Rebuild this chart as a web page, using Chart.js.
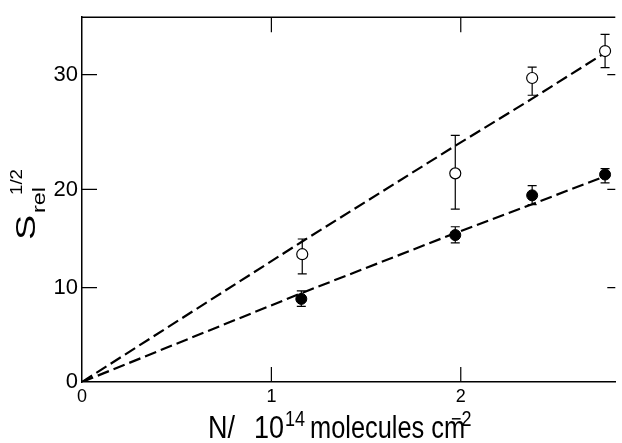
<!DOCTYPE html>
<html>
<head>
<meta charset="utf-8">
<script src="https://cdn.jsdelivr.net/npm/chart.js@4.4.1/dist/chart.umd.min.js"></script>
<style>
  html, body { margin: 0; padding: 0; background: #fff; }
</style>
</head>
<body>
<canvas id="chart" width="622" height="443"></canvas>
<script>
// values
const xTicks = [0, 1, 2];
const yTicks = [0, 10, 20, 30];

const openX = [1.163, 1.971, 2.377, 2.762];
const openY = [13.4, 21.4, 29.7, 32.05];
const openErrUp = [1.55, 3.3, 0.95, 1.45];
const openErrDown = [2.0, 3.4, 1.5, 1.45];

const filledX = [1.158, 1.971, 2.377, 2.762];
const filledY = [8.8, 15.35, 19.4, 21.3];
const filledErrUp = [0.85, 0.85, 0.93, 0.52];
const filledErrDown = [0.8, 0.8, 0.94, 0.73];

const openFitX = [0, 1.163, 1.971, 2.377, 2.762];
const openFitY = [0, 14.7, 23.8, 27.9, 31.9];
const filledFitX = [0, 1.158, 1.971, 2.377, 2.762];
const filledFitY = [0, 9.4, 15.55, 18.5, 21.15];

// the printed y axis is not evenly spaced, so map value -> axis fraction piecewise
const yBreakValues = [0, 10, 20, 30, 35];
const yBreakFractions = [0, 0.2589, 0.5278, 0.8428, 1];

function interp(v, xs, ys) {
    for (let i = 1; i < xs.length; i++) {
        if (v <= xs[i] || i === xs.length - 1) {
            return ys[i - 1] + (v - xs[i - 1]) * (ys[i] - ys[i - 1]) / (xs[i] - xs[i - 1]);
        }
    }
}

class PrintedScale extends Chart.LinearScale {
    getPixelForValue(value) {
        return this.getPixelForDecimal(interp(value, yBreakValues, yBreakFractions));
    }
    getValueForPixel(pixel) {
        return interp(this.getDecimalForPixel(pixel), yBreakFractions, yBreakValues);
    }
}
PrintedScale.id = 'printed';
PrintedScale.defaults = Chart.LinearScale.defaults;
Chart.register(PrintedScale);

const FONT = '"Liberation Sans", Arial, sans-serif';
Chart.defaults.font.family = FONT;
Chart.defaults.color = '#000';

function points(xs, ys) {
    return xs.map((x, i) => ({ x: x, y: ys[i] }));
}

// error bars, drawn under the markers
const errorBars = {
    id: 'errorBars',
    beforeDatasetsDraw(chart) {
        const ctx = chart.ctx;
        const xs = chart.scales.x, ys = chart.scales.y;
        ctx.save();
        ctx.strokeStyle = '#000';
        ctx.lineWidth = 1.2;
        chart.data.datasets.forEach(ds => {
            if (!ds.errUp) return;
            ds.data.forEach((p, i) => {
                const px = xs.getPixelForValue(p.x);
                const top = ys.getPixelForValue(p.y + ds.errUp[i]);
                const bot = ys.getPixelForValue(p.y - ds.errDown[i]);
                ctx.beginPath();
                ctx.moveTo(px, top); ctx.lineTo(px, bot);
                ctx.moveTo(px - 4.5, top); ctx.lineTo(px + 4.5, top);
                ctx.moveTo(px - 4.5, bot); ctx.lineTo(px + 4.5, bot);
                ctx.stroke();
            });
        });
        ctx.restore();
    }
};

// top edge, inward ticks, axis titles
const frame = {
    id: 'frame',
    afterDraw(chart) {
        const ctx = chart.ctx;
        const a = chart.chartArea;
        const xs = chart.scales.x, ys = chart.scales.y;
        ctx.save();
        ctx.strokeStyle = '#000';
        ctx.lineWidth = 1.5;
        ctx.beginPath();
        ctx.moveTo(a.left, a.top); ctx.lineTo(a.right, a.top);
        ctx.stroke();
        ctx.lineWidth = 1.2;
        ctx.beginPath();
        xTicks.slice(1).forEach(v => {
            const px = xs.getPixelForValue(v);
            ctx.moveTo(px, a.bottom); ctx.lineTo(px, a.bottom - 15);
            ctx.moveTo(px, a.top); ctx.lineTo(px, a.top + 15);
        });
        yTicks.slice(1).forEach(v => {
            const py = ys.getPixelForValue(v);
            ctx.moveTo(a.left, py); ctx.lineTo(a.left + 15, py);
            ctx.moveTo(a.right, py); ctx.lineTo(a.right - 8, py);
        });
        ctx.stroke();

        ctx.fillStyle = '#000';
        ctx.textBaseline = 'alphabetic';
        ctx.textAlign = 'left';

        // x title: N/ 10^14 molecules cm^-2
        function xText(str, x, y, size, sx) {
            ctx.save();
            ctx.translate(x, y);
            ctx.scale(sx, 1.18);
            ctx.font = size + 'px ' + FONT;
            ctx.fillText(str, 0, 0);
            ctx.restore();
        }
        xText('N/', 208, 438, 27, 1);
        xText('10', 254, 438, 27, 1);
        xText('14', 285, 426, 18, 1);
        xText('molecules cm', 310, 438, 27, 0.94);
        xText('\u22122', 451, 426, 18, 1);

        // y title: S_rel^1/2, rotated
        ctx.save();
        ctx.translate(35, 240);
        ctx.rotate(-Math.PI / 2);
        function yText(str, x, y, size, sx) {
            ctx.save();
            ctx.translate(x, y);
            ctx.scale(sx, 1);
            ctx.font = size + 'px ' + FONT;
            ctx.fillText(str, 0, 0);
            ctx.restore();
        }
        yText('S', 0, 0, 28, 1.35);
        yText('rel', 27, 10, 18, 1.3);
        yText('1/2', 45, -13, 17, 1.1);
        ctx.restore();

        ctx.restore();
    }
};

const ctx = document.getElementById('chart').getContext('2d');
new Chart(ctx, {
    type: 'scatter',
    data: {
        datasets: [
            {
                label: 'open',
                data: points(openX, openY),
                errUp: openErrUp,
                errDown: openErrDown,
                pointStyle: 'circle',
                pointRadius: 5.5,
                pointBackgroundColor: '#fff',
                pointBorderColor: '#000',
                pointBorderWidth: 1.2,
                showLine: false,
                order: 0
            },
            {
                label: 'filled',
                data: points(filledX, filledY),
                errUp: filledErrUp,
                errDown: filledErrDown,
                pointStyle: 'circle',
                pointRadius: 5.5,
                pointBackgroundColor: '#000',
                pointBorderColor: '#000',
                pointBorderWidth: 1,
                showLine: false,
                order: 0
            },
            {
                label: 'open fit',
                data: points(openFitX, openFitY),
                showLine: true,
                borderColor: '#000',
                borderWidth: 2.2,
                borderDash: [12, 5],
                pointRadius: 0,
                fill: false,
                order: 2
            },
            {
                label: 'filled fit',
                data: points(filledFitX, filledFitY),
                showLine: true,
                borderColor: '#000',
                borderWidth: 2.2,
                borderDash: [12, 5],
                pointRadius: 0,
                fill: false,
                order: 2
            }
        ]
    },
    options: {
        responsive: false,
        animation: false,
        devicePixelRatio: 1,
        layout: { padding: { top: 15, right: 0, left: 0, bottom: 0 } },
        plugins: {
            legend: { display: false },
            tooltip: { enabled: false }
        },
        scales: {
            x: {
                type: 'linear',
                min: 0,
                max: 2.816,
                afterBuildTicks: s => { s.ticks = xTicks.map(v => ({ value: v })); },
                afterFit: s => { s.height = 61; },
                grid: { display: false, drawTicks: false },
                border: { display: true, color: '#000', width: 1.5 },
                ticks: { font: { size: 18 }, padding: 4, color: '#000', maxRotation: 0 }
            },
            y: {
                type: 'printed',
                min: 0,
                max: 35,
                afterBuildTicks: s => { s.ticks = yTicks.map(v => ({ value: v })); },
                afterFit: s => { s.width = 82; },
                grid: { display: false, drawTicks: false },
                border: { display: true, color: '#000', width: 1.5 },
                ticks: { font: { size: 22 }, padding: 4, color: '#000' }
            }
        }
    },
    plugins: [errorBars, frame]
});
</script>
</body>
</html>
